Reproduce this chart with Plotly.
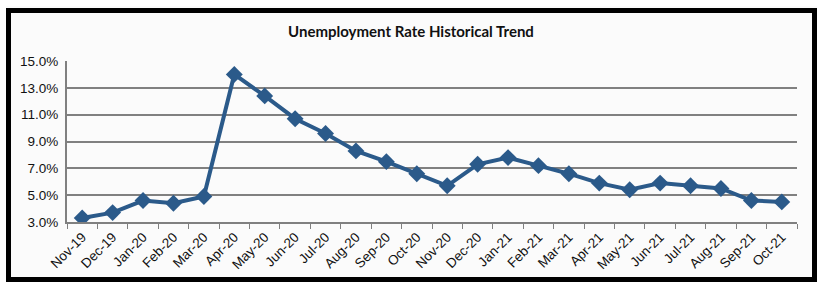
import plotly.graph_objects as go

months = ["Nov-19", "Dec-19", "Jan-20", "Feb-20", "Mar-20", "Apr-20", "May-20", "Jun-20",
          "Jul-20", "Aug-20", "Sep-20", "Oct-20", "Nov-20", "Dec-20", "Jan-21", "Feb-21",
          "Mar-21", "Apr-21", "May-21", "Jun-21", "Jul-21", "Aug-21", "Sep-21", "Oct-21"]
rates = [3.3, 3.7, 4.6, 4.4, 4.9, 14.0, 12.4, 10.7, 9.6, 8.3, 7.5, 6.6, 5.7, 7.3, 7.8, 7.2,
         6.6, 5.9, 5.4, 5.9, 5.7, 5.5, 4.6, 4.5]
y_ticks = [3, 5, 7, 9, 11, 13, 15]

W, H = 824, 289
L, R, T, B = 67, 27, 61, 67
pw, ph = W - L - R, H - T - B

def px(x):
    return (x - L) / pw

def py(y):
    return (H - B - y) / ph

fig = go.Figure()
fig.add_trace(go.Scatter(
    x=months, y=rates, mode="lines+markers",
    line=dict(color="#2b5a8a", width=4),
    marker=dict(symbol="diamond", size=13, color="#2b5a8a"),
    showlegend=False,
))

tick_font = dict(family="Liberation Sans", size=13.5, color="#111")

fig.update_layout(
    width=W, height=H,
    margin=dict(l=L, r=R, t=T, b=B),
    paper_bgcolor="#fbfbfb",
    plot_bgcolor="#fbfbfb",
    title=dict(text="<b>Unemployment Rate Historical Trend</b>", x=411 / W, xanchor="center",
               y=1 - 32 / H, yanchor="middle",
               font=dict(family="Lato", size=15, color="#111")),
    xaxis=dict(type="category", range=[-0.5, len(months) - 0.5], tickangle=-45,
               tickson="boundaries", ticks="outside", ticklen=5, tickcolor="#808080",
               showline=True, linecolor="#808080", linewidth=2, showgrid=False,
               tickfont=tick_font),
    yaxis=dict(range=[3, 15], tickvals=y_ticks, ticktext=[f"{v:.1f}%" for v in y_ticks],
               showgrid=True, gridcolor="#808080", gridwidth=2, zeroline=False,
               showline=True, linecolor="#808080", linewidth=2, ticks="",
               ticklabelstandoff=4, tickfont=tick_font),
    shapes=[
        dict(type="rect", xref="paper", yref="paper", layer="below",
             x0=px(-20), x1=px(W + 20), y0=py(-20), y1=py(8.5 - 2.5),
             fillcolor="white", line=dict(width=0)),
        dict(type="rect", xref="paper", yref="paper", layer="below",
             x0=px(814.5 + 2.5), x1=px(W + 20), y0=py(H + 20), y1=py(-20),
             fillcolor="white", line=dict(width=0)),
        dict(type="rect", xref="paper", yref="paper", layer="below",
             x0=px(-20), x1=px(W + 20), y0=py(H + 20), y1=py(279.5 + 2.5),
             fillcolor="white", line=dict(width=0)),
        dict(type="rect", xref="paper", yref="paper", layer="below",
             x0=px(-20), x1=px(8.5 - 2.5), y0=py(H + 20), y1=py(-20),
             fillcolor="white", line=dict(width=0)),
        dict(type="rect", xref="paper", yref="paper",
             x0=px(8.5), x1=px(814.5), y0=py(279.5), y1=py(10.5),
             line=dict(color="black", width=5)),
    ],
)

fig.write_html("out.html")
